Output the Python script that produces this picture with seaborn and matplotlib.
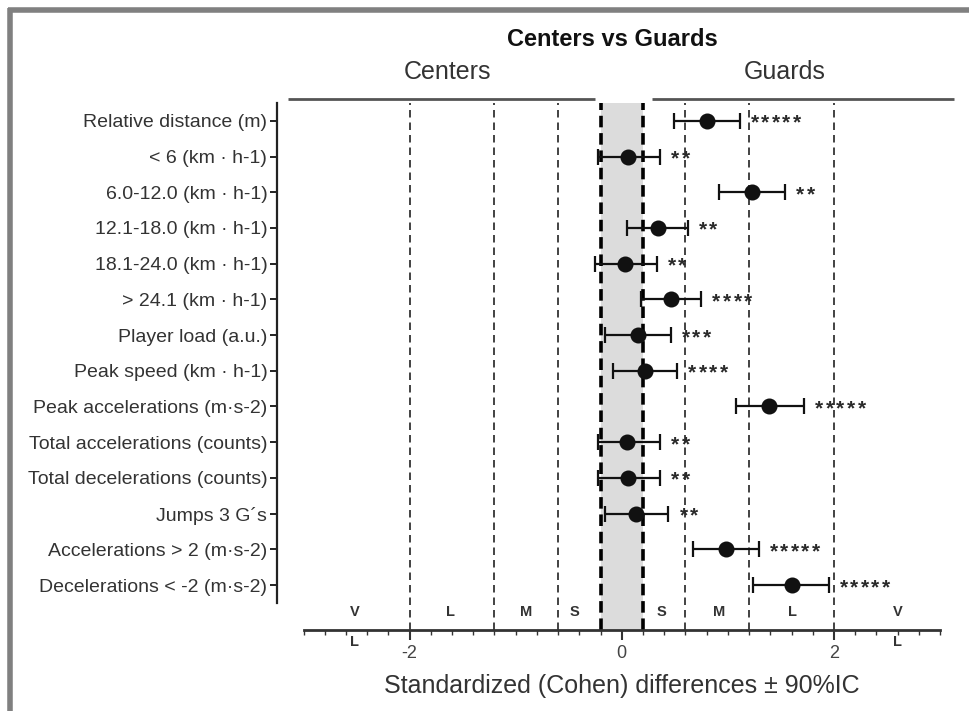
import numpy as np
import pandas as pd
import matplotlib
matplotlib.use("Agg")
import matplotlib.pyplot as plt
from matplotlib.lines import Line2D
from matplotlib.ticker import FixedLocator
import seaborn as sns

# Standardized differences (Cohen's d) between centers and guards, with 90% CI
variables = [
    "Relative distance (m)",
    "< 6 (km · h-1)",
    "6.0-12.0 (km · h-1)",
    "12.1-18.0 (km · h-1)",
    "18.1-24.0 (km · h-1)",
    "> 24.1 (km · h-1)",
    "Player load (a.u.)",
    "Peak speed (km · h-1)",
    "Peak accelerations (m·s-2)",
    "Total accelerations (counts)",
    "Total decelerations (counts)",
    "Jumps 3 G´s",
    "Accelerations > 2 (m·s-2)",
    "Decelerations < -2 (m·s-2)",
]
effect = [0.80, 0.06, 1.23, 0.34, 0.03, 0.46, 0.15, 0.22, 1.39, 0.05, 0.06, 0.13, 0.98, 1.60]
ci_low = [0.49, -0.22, 0.92, 0.05, -0.25, 0.18, -0.16, -0.08, 1.08, -0.22, -0.22, -0.16, 0.67, 1.24]
ci_high = [1.11, 0.36, 1.54, 0.62, 0.33, 0.75, 0.46, 0.52, 1.72, 0.36, 0.36, 0.44, 1.29, 1.95]
stars = ["*****", "**", "**", "**", "**", "****", "***", "****", "*****", "**", "**", "**", "*****", "*****"]

# Effect-size thresholds (small / moderate / large / very large)
thresholds = [-2.0, -1.2, -0.6, 0.6, 1.2, 2.0]
trivial = [-0.2, 0.2]
zone_labels = ["V", "L", "M", "S", "S", "M", "L", "V"]
zone_centers = [-2.52, -1.61, -0.9, -0.45, 0.37, 0.92, 1.61, 2.6]
xticks = [-2, 0, 2]

df = pd.DataFrame({"variable": variables, "effect": effect,
                   "low": ci_low, "high": ci_high, "stars": stars})

sns.set_theme(style="white")
plt.rcParams["font.family"] = ["Liberation Sans", "DejaVu Sans"]
plt.rcParams["axes.unicode_minus"] = False

W, H = 970, 711
fig = plt.figure(figsize=(W / 100, H / 100), dpi=100)
fig.patch.set_facecolor("white")

ax_left, ax_right, ax_top, ax_bottom = 277, 956, 103, 630
ax = fig.add_axes([ax_left / W, 1 - ax_bottom / H,
                   (ax_right - ax_left) / W, (ax_bottom - ax_top) / H])

# Trivial band and threshold lines
ax.axvspan(trivial[0], trivial[1], color="#dcdcdc", zorder=0, lw=0)
for t in trivial:
    ax.axvline(t, color="black", lw=2.6, ls=(0, (3.2, 1.6)), zorder=1)
for t in thresholds:
    ax.axvline(t, color="#222222", lw=1.2, ls=(0, (4.5, 3)), zorder=1)

# Confidence intervals
n = len(df)
pos = np.arange(n)
xerr = np.vstack([df["effect"] - df["low"], df["high"] - df["effect"]])
ax.errorbar(df["effect"], pos, xerr=xerr, fmt="none", ecolor="#111111",
            elinewidth=1.6, capsize=5.5, capthick=1.6, zorder=3)

# Point estimates
sns.pointplot(data=df, x="effect", y="variable", orient="h", linestyle="none",
              errorbar=None, color="#111111", markers="o", markersize=9.5,
              zorder=4, ax=ax)

# Significance asterisks, one glyph per star, spaced along the row
star_size = 15
for i, row in df.iterrows():
    for k in range(len(row["stars"])):
        ax.annotate("*", xy=(row["high"], i), xycoords="data",
                    xytext=(10.8 + 7.6 * k, -0.58 * star_size + 3),
                    textcoords="offset points", ha="center", va="baseline",
                    fontsize=star_size, fontweight="bold", color="#2a2a2a")

ax.set_xlim(-3.25, 3.15)
ax.set_ylim(14.26, -0.5)
ax.set_xlabel("")
ax.set_ylabel("")

for side in ["top", "right"]:
    ax.spines[side].set_visible(False)
ax.spines["left"].set_bounds(-0.5, 13.5)
ax.spines["left"].set_linewidth(1.6)
ax.spines["left"].set_color("#222222")
ax.spines["bottom"].set_bounds(-3, 3)
ax.spines["bottom"].set_linewidth(2)
ax.spines["bottom"].set_color("#333333")

ax.set_xticks(xticks)
minor = [v for v in np.round(np.arange(-3, 3.01, 0.2), 1) if v not in xticks]
ax.xaxis.set_minor_locator(FixedLocator(minor))
ax.tick_params(axis="x", which="major", length=7, width=1.5, color="#333333",
               labelsize=13, labelcolor="#444444", pad=4, bottom=True)
ax.tick_params(axis="x", which="minor", length=3.5, width=1, color="#333333", bottom=True)
ax.tick_params(axis="y", length=5, width=1.4, color="#222222",
               labelsize=14, labelcolor="#333333", pad=2, left=True)

# Magnitude labels along the x axis
tr = ax.get_xaxis_transform()
for lab, xc in zip(zone_labels, zone_centers):
    ax.text(xc, 18 / 527, lab, transform=tr, ha="center", va="center",
            fontsize=10.5, fontweight="bold", color="#333333")
for xc in (zone_centers[0], zone_centers[-1]):
    ax.text(xc, -12 / 527, "L", transform=tr, ha="center", va="center",
            fontsize=10.5, fontweight="bold", color="#333333")

# Group header lines
for x0, x1 in [(-3.15, -0.25), (0.28, 3.13)]:
    ax.plot([x0, x1], [-0.6, -0.6], color="#555555", lw=2, clip_on=False,
            solid_capstyle="butt")

def px(x, y):
    return x / W, 1 - y / H

fig.text(*px(612, 40), "Centers vs Guards", ha="center", va="center",
         fontsize=17, fontweight="bold", color="#111111")
fig.text(*px(448, 72), "Centers", ha="center", va="center",
         fontsize=18, color="#333333")
fig.text(*px(785, 72), "Guards", ha="center", va="center",
         fontsize=18, color="#333333")
fig.text(*px(622, 686), "Standardized (Cohen) differences ± 90%IC",
         ha="center", va="center", fontsize=18, color="#333333")

# Gray frame along top and left edges
fig.add_artist(Line2D([8 / W, 1], [1 - 10 / H, 1 - 10 / H], transform=fig.transFigure,
                      color="#808080", lw=4, solid_capstyle="butt"))
fig.add_artist(Line2D([10 / W, 10 / W], [0, 1 - 8 / H], transform=fig.transFigure,
                      color="#808080", lw=4, solid_capstyle="butt"))

fig.savefig("out.png", dpi=100, facecolor="white")
